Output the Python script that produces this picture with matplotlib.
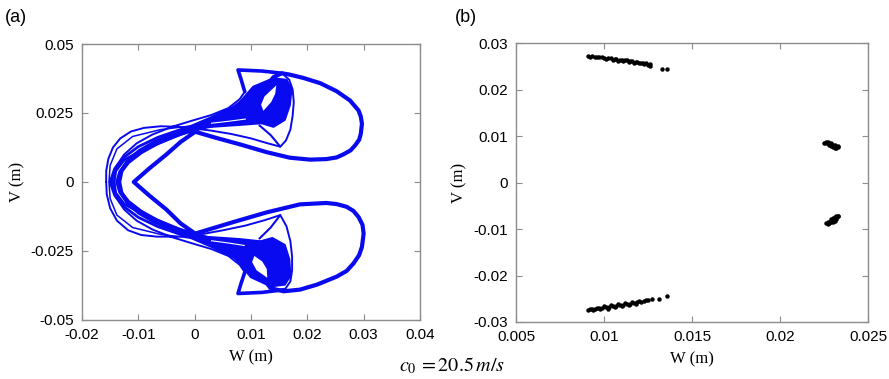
import numpy as np
import matplotlib.pyplot as plt

# ---- (a) phase portrait: traced strands of the trajectory (W, V in m) ----
# main strand: inner "<" line -> outer upper lobe -> knot -> left -> lower lobe -> back
s1_w = [0.0001, 0.0038, 0.0081, 0.0128, 0.0169, 0.0205, 0.0234, 0.0252, 0.0264, 0.0277,
        0.0285, 0.0292, 0.0295, 0.0297, 0.0295, 0.0291, 0.0276, 0.0252, 0.0223, 0.0193,
        0.0169, 0.0155,
        0.0140, 0.0125, 0.0110, 0.0095, 0.0070, 0.0040, 0.0005, -0.0030, -0.0065,
        -0.0095, -0.0118, -0.0132, -0.0137, -0.0132, -0.0118, -0.0095, -0.0065,
        -0.0030, 0.0005, 0.0040, 0.0070, 0.0090, 0.0105, 0.0120, 0.0135, 0.0158,
        0.0187, 0.0217, 0.0252, 0.0270, 0.0282, 0.0292, 0.0297, 0.0300, 0.0298, 0.0291,
        0.0282, 0.0270, 0.0252, 0.0234, 0.0187, 0.0128, 0.0069, 0.0001, -0.0025,
        -0.0050, -0.0080, -0.0108, -0.0080, -0.0050, -0.0025, 0.0001]
s1_v = [0.0182, 0.0160, 0.0136, 0.0108, 0.0088, 0.0081, 0.0083, 0.0089, 0.0100, 0.0115,
        0.0133, 0.0153, 0.0175, 0.0211, 0.0237, 0.0259, 0.0295, 0.0329, 0.0358, 0.0377,
        0.0389, 0.0394,
        0.0380, 0.0340, 0.0290, 0.0250, 0.0225, 0.0210, 0.0193, 0.0172, 0.0142,
        0.0108, 0.0072, 0.0036, 0.0000, -0.0036, -0.0072, -0.0108, -0.0142,
        -0.0172, -0.0193, -0.0212, -0.0228, -0.0255, -0.0295, -0.0345, -0.0385, -0.0396,
        -0.0390, -0.0372, -0.0343, -0.0322, -0.0295, -0.0265, -0.0235, -0.0187, -0.0155,
        -0.0127, -0.0105, -0.0090, -0.0080, -0.0076, -0.0081, -0.0110, -0.0145, -0.0187,
        -0.0150, -0.0100, -0.0050, 0.0000, 0.0050, 0.0100, 0.0145, 0.0182]

# thin outer left loop, inner "pear" of each lobe and left edge of the knots
s2_w = [-0.0157, -0.0157, -0.0153, -0.0145, -0.0132, -0.0113, -0.0090, -0.0060, -0.0030,
        0.0000, 0.0030, 0.0065, 0.0100, 0.0130, 0.0152, 0.0162, 0.0170, 0.0174,
        0.0176, 0.0174, 0.0168, 0.0155, 0.0120, 0.0077, 0.0082, 0.0089, 0.0080,
        0.0060, 0.0030, -0.0005, -0.0040, -0.0075, -0.0103, -0.0125, -0.0140, -0.0147,
        -0.0140, -0.0125, -0.0103, -0.0075, -0.0040, -0.0005, 0.0030, 0.0060, 0.0080,
        0.0089, 0.0082, 0.0077, 0.0120, 0.0160, 0.0170, 0.0173, 0.0173, 0.0170,
        0.0163, 0.0152, 0.0125, 0.0090, 0.0050, 0.0010, -0.0030, -0.0067, -0.0095,
        -0.0118, -0.0138, -0.0150, -0.0156, -0.0157]
s2_v = [0.0000, 0.0040, 0.0085, 0.0125, 0.0158, 0.0183, 0.0196, 0.0202, 0.0200,
        0.0194, 0.0186, 0.0174, 0.0158, 0.0140, 0.0128, 0.0150, 0.0190, 0.0240,
        0.0290, 0.0335, 0.0370, 0.0394, 0.0402, 0.0406, 0.0375, 0.0327, 0.0300,
        0.0268, 0.0243, 0.0222, 0.0200, 0.0172, 0.0140, 0.0100, 0.0055, 0.0000,
        -0.0055, -0.0100, -0.0140, -0.0172, -0.0200, -0.0222, -0.0243, -0.0268, -0.0300,
        -0.0327, -0.0370, -0.0404, -0.0400, -0.0390, -0.0360, -0.0320, -0.0270, -0.0215,
        -0.0160, -0.0120, -0.0138, -0.0158, -0.0175, -0.0190, -0.0198, -0.0198, -0.0192,
        -0.0175, -0.0140, -0.0095, -0.0045, 0.0000]

# heavy outer corner of each knot (top/bottom bar and its left edge)
corner_up_w = [0.0155, 0.0120, 0.0077, 0.0082, 0.0089]
corner_up_v = [0.0394, 0.0402, 0.0406, 0.0375, 0.0327]
corner_lo_w = [0.0160, 0.0120, 0.0077, 0.0082, 0.0089]
corner_lo_v = [-0.0390, -0.0400, -0.0404, -0.0370, -0.0327]

# left side of each pear, from its tip back up into the knot
pear_up_w = [0.0152, 0.0135, 0.0115]
pear_up_v = [0.0128, 0.0170, 0.0205]
pear_lo_w = [0.0152, 0.0135, 0.0115]
pear_lo_v = [-0.0120, -0.0165, -0.0205]

# bundles crossing the left side between the two lobes
b1_w = [0.0040, 0.0005, -0.0035, -0.0070, -0.0098, -0.0118, -0.0130, -0.0134, -0.0130,
        -0.0118, -0.0098, -0.0070, -0.0035, 0.0005, 0.0040]
b1_v = [0.0212, 0.0198, 0.0175, 0.0145, 0.0112, 0.0078, 0.0040, 0.0000, -0.0040,
        -0.0078, -0.0112, -0.0145, -0.0175, -0.0198, -0.0212]
b2_w = [0.0060, 0.0020, -0.0025, -0.0065, -0.0100, -0.0125, -0.0142, -0.0150, -0.0142,
        -0.0125, -0.0100, -0.0065, -0.0025, 0.0020, 0.0060]
b2_v = [0.0228, 0.0213, 0.0190, 0.0162, 0.0128, 0.0090, 0.0048, 0.0000, -0.0048,
        -0.0090, -0.0128, -0.0162, -0.0190, -0.0213, -0.0228]
b3_w = [0.0010, -0.0040, -0.0090, -0.0125, -0.0140, -0.0143, -0.0140, -0.0125, -0.0090,
        -0.0040, 0.0010]
b3_v = [0.0200, 0.0160, 0.0118, 0.0080, 0.0040, 0.0000, -0.0040, -0.0080, -0.0118,
        -0.0160, -0.0200]
b4_w = [0.0000, -0.0060, -0.0110, -0.0138, -0.0150, -0.0152, -0.0150, -0.0138, -0.0110,
        -0.0060, 0.0000]
b4_v = [0.0205, 0.0190, 0.0165, 0.0120, 0.0060, 0.0000, -0.0060, -0.0120, -0.0165,
        -0.0190, -0.0205]

# dense knots of each lobe and the open "eye" inside them
knot_up_w = [0.0081, 0.0104, 0.0140, 0.0163, 0.0172, 0.0169, 0.0160, 0.0140, 0.0119,
             0.0095, 0.0081]
knot_up_v = [0.0291, 0.0345, 0.0376, 0.0370, 0.0339, 0.0279, 0.0225, 0.0200, 0.0213,
             0.0243, 0.0268]
eye_up_w = [0.0145, 0.0143, 0.0136, 0.0122, 0.0118, 0.0124, 0.0145]
eye_up_v = [0.0350, 0.0320, 0.0290, 0.0258, 0.0280, 0.0310, 0.0350]
knot_lo_w = [0.0078, 0.0100, 0.0135, 0.0160, 0.0170, 0.0168, 0.0160, 0.0138, 0.0117,
             0.0093, 0.0079]
knot_lo_v = [-0.0291, -0.0345, -0.0378, -0.0372, -0.0340, -0.0280, -0.0228, -0.0203,
             -0.0215, -0.0245, -0.0270]
eye_lo_w = [0.0129, 0.0128, 0.0120, 0.0106, 0.0102, 0.0110, 0.0129]
eye_lo_v = [-0.0347, -0.0315, -0.0288, -0.0268, -0.0290, -0.0320, -0.0347]

# fans of bands between each knot and the crossing near W = 0
fan_up_w = [-0.0010, 0.0030, 0.0069, 0.0081, 0.0095, 0.0119, 0.0080, 0.0030]
fan_up_v = [0.0200, 0.0235, 0.0273, 0.0291, 0.0243, 0.0213, 0.0207, 0.0200]
fan_lo_w = [-0.0010, 0.0030, 0.0069, 0.0079, 0.0093, 0.0117, 0.0080, 0.0030]
fan_lo_v = [-0.0200, -0.0235, -0.0273, -0.0291, -0.0245, -0.0215, -0.0207, -0.0200]
slit_up_w = [0.0030, 0.0060, 0.0090]
slit_up_v = [0.0213, 0.0220, 0.0228]
slit_lo_w = [0.0030, 0.0060, 0.0088]
slit_lo_v = [-0.0213, -0.0221, -0.0230]

# ---- (b) Poincare section points ----
p_ul_w = [0.0091, 0.0093, 0.0095, 0.0097, 0.0099, 0.0100, 0.0102, 0.0104, 0.0106,
          0.0107, 0.0109, 0.0110, 0.0112, 0.0113, 0.0115, 0.0116, 0.0118, 0.0119,
          0.0121, 0.0122, 0.0124, 0.0125, 0.0126, 0.0133, 0.0136,
          0.0092, 0.0096, 0.0101, 0.0105, 0.0108, 0.0111, 0.0114, 0.0117, 0.0120,
          0.0123, 0.0126]
p_ul_v = [0.0273, 0.0272, 0.0271, 0.0271, 0.0270, 0.0268, 0.0268, 0.0267, 0.0266,
          0.0265, 0.0264, 0.0264, 0.0263, 0.0263, 0.0262, 0.0261, 0.0260, 0.0259,
          0.0258, 0.0257, 0.0256, 0.0253, 0.0251, 0.0245, 0.0244,
          0.0270, 0.0269, 0.0266, 0.0264, 0.0262, 0.0261, 0.0260, 0.0258, 0.0256,
          0.0254, 0.0254]
p_ll_w = [0.0091, 0.0093, 0.0095, 0.0097, 0.0099, 0.0101, 0.0103, 0.0105, 0.0107,
          0.0109, 0.0111, 0.0113, 0.0115, 0.0117, 0.0119, 0.0121, 0.0123, 0.0125,
          0.0127, 0.0131, 0.0136,
          0.0092, 0.0096, 0.0100, 0.0104, 0.0108, 0.0112, 0.0116, 0.0120, 0.0124,
          0.0094, 0.0098, 0.0102, 0.0106, 0.0110, 0.0114, 0.0118]
p_ll_v = [-0.0274, -0.0272, -0.0272, -0.0270, -0.0269, -0.0268, -0.0267, -0.0266, -0.0265,
          -0.0264, -0.0263, -0.0262, -0.0261, -0.0259, -0.0258, -0.0256, -0.0255, -0.0253,
          -0.0251, -0.0251, -0.0245,
          -0.0271, -0.0269, -0.0266, -0.0264, -0.0262, -0.0260, -0.0258, -0.0255, -0.0253,
          -0.0275, -0.0273, -0.0271, -0.0268, -0.0266, -0.0264, -0.0262]
p_ur_w = [0.0225, 0.0226, 0.0227, 0.0228, 0.0229, 0.0230, 0.0231, 0.0232, 0.0233,
          0.0226, 0.0228, 0.0229, 0.0230, 0.0231, 0.0232, 0.0227, 0.0229, 0.0231, 0.0233]
p_ur_v = [0.0086, 0.0087, 0.0085, 0.0084, 0.0082, 0.0080, 0.0078, 0.0077, 0.0076,
          0.0084, 0.0081, 0.0079, 0.0077, 0.0075, 0.0074, 0.0087, 0.0085, 0.0081, 0.0079]
p_lr_w = [0.0226, 0.0227, 0.0228, 0.0229, 0.0230, 0.0231, 0.0232, 0.0233,
          0.0227, 0.0228, 0.0229, 0.0230, 0.0231, 0.0232,
          0.0229, 0.0230, 0.0231, 0.0232, 0.0233]
p_lr_v = [-0.0088, -0.0086, -0.0084, -0.0082, -0.0080, -0.0078, -0.0076, -0.0073,
          -0.0089, -0.0088, -0.0086, -0.0084, -0.0082, -0.0079,
          -0.0078, -0.0076, -0.0075, -0.0073, -0.0072]

a_xticks = [-0.02, -0.01, 0, 0.01, 0.02, 0.03, 0.04]
a_yticks = [-0.05, -0.025, 0, 0.025, 0.05]
b_xticks = [0.005, 0.01, 0.015, 0.02, 0.025]
b_yticks = [-0.03, -0.02, -0.01, 0, 0.01, 0.02, 0.03]

blue = "#0a0af0"
label_font = {"family": "Liberation Serif", "size": 12}


def style_axes(ax):
    for sp in ax.spines.values():
        sp.set_color("#8c8c8c")
        sp.set_linewidth(1.0)
    ax.tick_params(direction="in", top=True, right=True, length=4,
                   color="#8c8c8c", pad=6)
    for lbl in ax.get_xticklabels() + ax.get_yticklabels():
        lbl.set_fontfamily("Liberation Sans")
        lbl.set_fontsize(11)


def fmt(t):
    return "0" if t == 0 else f"{t:g}"


plt.rcParams["mathtext.fontset"] = "stix"
fig = plt.figure(figsize=(8.89, 3.79), dpi=100)
ax1 = fig.add_axes([0.0922, 0.1557, 0.3802, 0.7282])
ax2 = fig.add_axes([0.5804, 0.1504, 0.3960, 0.7361])

line_kw = dict(color=blue, solid_joinstyle="round", solid_capstyle="round")
ax1.plot(s1_w, s1_v, lw=3.0, **line_kw)
ax1.plot(s2_w, s2_v, lw=1.4, **line_kw)
ax1.plot(corner_up_w, corner_up_v, lw=2.6, **line_kw)
ax1.plot(corner_lo_w, corner_lo_v, lw=2.6, **line_kw)
ax1.plot(pear_up_w, pear_up_v, lw=1.5, **line_kw)
ax1.plot(pear_lo_w, pear_lo_v, lw=1.5, **line_kw)
ax1.plot(b1_w, b1_v, lw=3.0, **line_kw)
ax1.plot(b2_w, b2_v, lw=2.0, **line_kw)
ax1.plot(b3_w, b3_v, lw=2.0, **line_kw)
ax1.plot(b4_w, b4_v, lw=1.1, **line_kw)

for kw, kv in [(knot_up_w, knot_up_v), (knot_lo_w, knot_lo_v),
               (fan_up_w, fan_up_v), (fan_lo_w, fan_lo_v)]:
    ax1.fill(kw, kv, color=blue, lw=1.5, ec=blue, joinstyle="round")
for ew, ev in [(eye_up_w, eye_up_v), (eye_lo_w, eye_lo_v)]:
    ax1.fill(ew, ev, color="white", lw=0, zorder=3)
for sw, sv in [(slit_up_w, slit_up_v), (slit_lo_w, slit_lo_v)]:
    ax1.plot(sw, sv, color="white", lw=0.8, zorder=3)

ax1.set_xlim(-0.02, 0.04)
ax1.set_ylim(-0.05, 0.05)
ax1.set_xticks(a_xticks, [fmt(t) for t in a_xticks])
ax1.set_yticks(a_yticks, [fmt(t) for t in a_yticks])
ax1.set_xlabel("W (m)", fontdict=label_font, labelpad=5)
ax1.set_ylabel("V (m)", fontdict=label_font, labelpad=4)
style_axes(ax1)

for w, v in [(p_ul_w, p_ul_v), (p_ll_w, p_ll_v), (p_ur_w, p_ur_v), (p_lr_w, p_lr_v)]:
    ax2.plot(w, v, "o", color="black", ms=3.2, mew=0)

ax2.set_xlim(0.005, 0.025)
ax2.set_ylim(-0.03, 0.03)
ax2.set_xticks(b_xticks, [fmt(t) for t in b_xticks])
ax2.set_yticks(b_yticks, [fmt(t) for t in b_yticks])
ax2.set_xlabel("W (m)", fontdict=label_font, labelpad=5)
ax2.set_ylabel("V (m)", fontdict=label_font, labelpad=4)
style_axes(ax2)

fig.text(0.006, 0.955, "(a)", fontsize=13, family="Liberation Sans", va="center")
fig.text(0.512, 0.955, "(b)", fontsize=13, family="Liberation Sans", va="center")
fig.text(0.508, 0.035, r"$c_0\,=20.5\,m/s$", fontsize=14.5, ha="center", va="center")

fig.savefig("out.png", dpi=100)
